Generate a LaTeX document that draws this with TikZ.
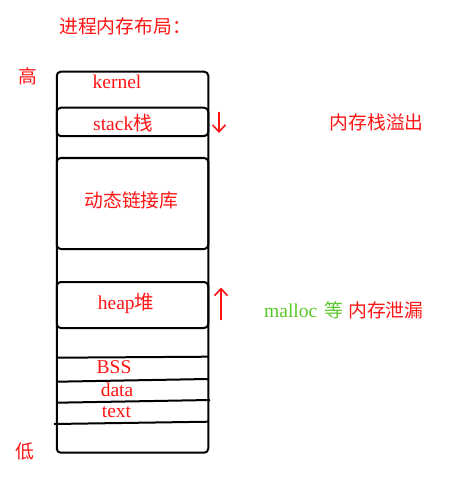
\documentclass[tikz,border=0pt]{standalone}
\usepackage{fontspec}
\setmainfont{Liberation Serif}
\newfontfamily\cjk{Noto Sans CJK SC}
\usetikzlibrary{arrows.meta}
\definecolor{myred}{RGB}{255,20,20}
\definecolor{mygreen}{RGB}{90,200,40}
\begin{document}
\begin{tikzpicture}[x=1pt,y=-1pt,
  box/.style={draw=black,line width=2pt,rounded corners=4pt,inner sep=0pt},
  sep/.style={draw=black,line width=2pt},
  lbl/.style={text=myred,inner sep=0pt,font=\fontsize{19.5}{21}\selectfont},
  cjklbl/.style={text=myred,inner sep=0pt,font=\cjk\fontsize{18.8}{21}\selectfont},
  growarrow/.style={draw=myred,line width=1.6pt,-{Straight Barb[length=7pt,width=13pt,line width=1.6pt]}}]
\useasboundingbox (0,0) rectangle (463,481);
% outer memory block
\node[box,minimum width=151.5pt,minimum height=381pt] (mem) at (132.5,262.2) {};
\node[box,minimum width=151.5pt,minimum height=28.3pt] (stackbox) at (132.5,121.9) {};
\node[box,minimum width=151.5pt,minimum height=91pt] (dynbox) at (132.5,203.5) {};
\node[box,minimum width=151.5pt,minimum height=46pt] (heapbox) at (132.5,305) {};
% separator lines
\draw[sep] (57,357.7) -- (208,356.7);
\draw[sep] (57,381.7) -- (208,379);
\draw[sep] (57,402.7) -- (210,400);
\draw[sep] (54,424) -- (209,421.7);
% labels
\node[cjklbl,anchor=west] (title) at (59,26) {进程内存布局：};
\node[cjklbl] (high) at (28,76) {高};
\node[cjklbl] (low) at (25,451) {低};
\node[lbl] (kernel) at (117,82) {kernel};
\node[lbl] (stack) at (123,123) {stack{\cjk 栈}};
\node[cjklbl] (dyn) at (131.5,200) {动态链接库};
\node[lbl] (heap) at (126,303) {heap{\cjk 堆}};
\node[lbl] (bss) at (114,367) {BSS};
\node[lbl] (data) at (117,390) {data};
\node[lbl] (text) at (116.5,412) {text};
\node[cjklbl,anchor=west] (overflow) at (329.5,122) {内存栈溢出};
\node[lbl,text=mygreen,anchor=west] (malloc) at (264,311) {malloc};
\node[cjklbl,text=mygreen,anchor=west] (deng) at (324,310) {等};
\node[cjklbl,anchor=west] (leak) at (348,310) {内存泄漏};
% growth arrows
\coordinate (sdA) at (219,112);
\coordinate (sdB) at (219,133);
\coordinate (huA) at (221,320);
\coordinate (huB) at (221,287.5);
\draw[growarrow] (sdA) -- (sdB);
\draw[growarrow] (huA) -- (huB);
\end{tikzpicture}
\end{document}
